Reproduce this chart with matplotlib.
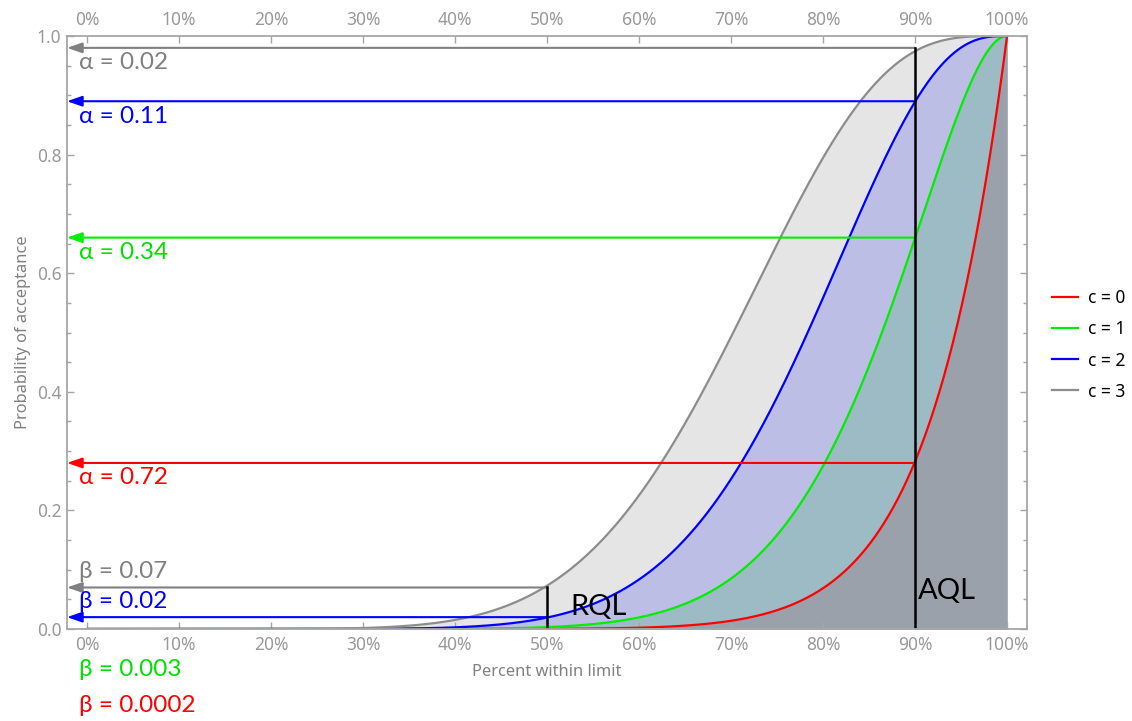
import math
import numpy as np
import matplotlib
matplotlib.use("Agg")
import matplotlib.pyplot as plt
from matplotlib.ticker import MultipleLocator, PercentFormatter, FormatStrFormatter
from matplotlib.lines import Line2D

# Single sampling plan: sample size and acceptance numbers
SAMPLE_SIZE = 12
ACCEPTANCE_NUMBERS = [0, 1, 2, 3]
SERIES_LABELS = ["c = 0", "c = 1", "c = 2", "c = 3"]

# Quality levels (fraction of items within limit)
AQL = 0.90
RQL = 0.50

# Producer's risk (alpha) at AQL and consumer's risk (beta) at RQL, per plan
ALPHA_VALUES = [0.72, 0.34, 0.11, 0.02]
BETA_VALUES = [0.0002, 0.003, 0.02, 0.07]

LINE_COLORS = ["#ff0000", "#00ee00", "#0000ff", "#8c8c8c"]
ARROW_COLORS = ["#ff0000", "#00ee00", "#0000ff", "#808080"]
TEXT_COLORS = ["#ff0000", "#00e000", "#0000ff", "#808080"]
FILL_COLORS = ["#9aa1aa", "#9dbbc5", "#bdbee5", "#e5e5e5"]

AXIS_GRAY = "#a6a6a6"
TICK_TEXT = "#999999"
LABEL_FONT = ["Lato", "Noto Sans", "DejaVu Sans"]
TICK_FONT = ["Noto Sans", "DejaVu Sans"]


def prob_accept(p, n, c):
    """Binomial OC curve: probability of at most c nonconforming items in n."""
    q = 1.0 - p
    return sum(math.comb(n, k) * q ** k * p ** (n - k) for k in range(c + 1))


p = np.linspace(0.0, 1.0, 801)
curves = [prob_accept(p, SAMPLE_SIZE, c) for c in ACCEPTANCE_NUMBERS]

W, H = 1132, 721
fig = plt.figure(figsize=(W / 100, H / 100), dpi=100)
ax = fig.add_axes([67 / W, 1 - 629 / H, 960 / W, 593 / H])
xmin, xmax = -0.0217, 1.0217
ax.set_xlim(xmin, xmax)
ax.set_ylim(0, 1)

# Filled areas under each curve, widest first
for i in reversed(range(len(curves))):
    ax.fill_between(p, 0, curves[i], color=FILL_COLORS[i], lw=0, zorder=1 + (3 - i) * 0.1)

for i, y in enumerate(curves):
    ax.plot(p, y, color=LINE_COLORS[i], lw=1.6, zorder=3, label=SERIES_LABELS[i],
            solid_capstyle="butt")

# Vertical markers at AQL and RQL
aql_top = 1 - min(ALPHA_VALUES)
rql_top = max(BETA_VALUES)
ax.plot([AQL, AQL], [0, aql_top], color="black", lw=1.8, zorder=5)
ax.plot([RQL, RQL], [0, rql_top], color="black", lw=1.8, zorder=5)


def risk_arrow(x0, y, color):
    ax.annotate("", xy=(xmin, y), xytext=(x0, y), xycoords="data",
                arrowprops=dict(arrowstyle="-|>,head_length=0.75,head_width=0.26",
                                color=color, lw=1.5, shrinkA=0, shrinkB=0,
                                mutation_scale=12),
                zorder=4, annotation_clip=False)


def risk_text(y, text, color, dy):
    ax.annotate(text, xy=(xmin, y), xytext=(12, dy), textcoords="offset pixels",
                ha="left", va="center", color=color, fontsize=17.5,
                family=LABEL_FONT, zorder=6, annotation_clip=False)


for i, a in enumerate(ALPHA_VALUES):
    risk_arrow(AQL, 1 - a, ARROW_COLORS[i])
    risk_text(1 - a, f"\u03b1 = {a}", TEXT_COLORS[i], -15)

# Beta arrows; the two smallest risks sit on the axis, labels go beneath it
for i, b in enumerate(BETA_VALUES):
    if b >= 0.01:
        risk_arrow(RQL, b, ARROW_COLORS[i])
        risk_text(b, f"\u03b2 = {b}", TEXT_COLORS[i], 16)
risk_text(0, f"\u03b2 = {BETA_VALUES[1]}", TEXT_COLORS[1], -41)
risk_text(0, f"\u03b2 = {BETA_VALUES[0]}", TEXT_COLORS[0], -76)

ax.annotate("RQL", xy=(RQL, 0), xytext=(23, 22), textcoords="offset pixels",
            ha="left", va="center", fontsize=21, family=LABEL_FONT, color="black", zorder=6)
ax.annotate("AQL", xy=(AQL, 0), xytext=(3, 38), textcoords="offset pixels",
            ha="left", va="center", fontsize=21, family=LABEL_FONT, color="black", zorder=6)

# Frame, ticks and labels
for s in ax.spines.values():
    s.set_color(AXIS_GRAY)
    s.set_linewidth(1.3)
    s.set_zorder(7)

ax.xaxis.set_major_locator(MultipleLocator(0.1))
ax.xaxis.set_major_formatter(PercentFormatter(xmax=1, decimals=0))
ax.yaxis.set_major_locator(MultipleLocator(0.2))
ax.yaxis.set_minor_locator(MultipleLocator(0.05))
ax.yaxis.set_major_formatter(FormatStrFormatter("%.1f"))
ax.tick_params(which="both", direction="in", top=True, right=True,
               labeltop=True, labelbottom=True, color=AXIS_GRAY,
               labelcolor=TICK_TEXT, labelsize=12.5)
ax.tick_params(which="major", length=5, width=1)
ax.tick_params(which="minor", length=3, width=1)
ax.tick_params(axis="x", pad=5)
ax.tick_params(axis="y", pad=4)
for lab in ax.get_xticklabels() + ax.get_yticklabels():
    lab.set_family(TICK_FONT)

ax.set_xlabel("Percent within limit", color="#808080", fontsize=11.8,
              family=TICK_FONT, labelpad=7)
ax.set_ylabel("Probability of acceptance", color="#808080", fontsize=11.8,
              family=TICK_FONT, labelpad=4)

handles = [Line2D([], [], color=c, lw=1.6) for c in LINE_COLORS]
fig.legend(handles, SERIES_LABELS, loc="center left",
           bbox_to_anchor=(1036 / W, 1 - 345 / H), frameon=False,
           handlelength=1.5, handletextpad=0.6, labelspacing=0.75,
           prop={"family": TICK_FONT, "size": 12.5})

fig.savefig("out.png", dpi=100)
